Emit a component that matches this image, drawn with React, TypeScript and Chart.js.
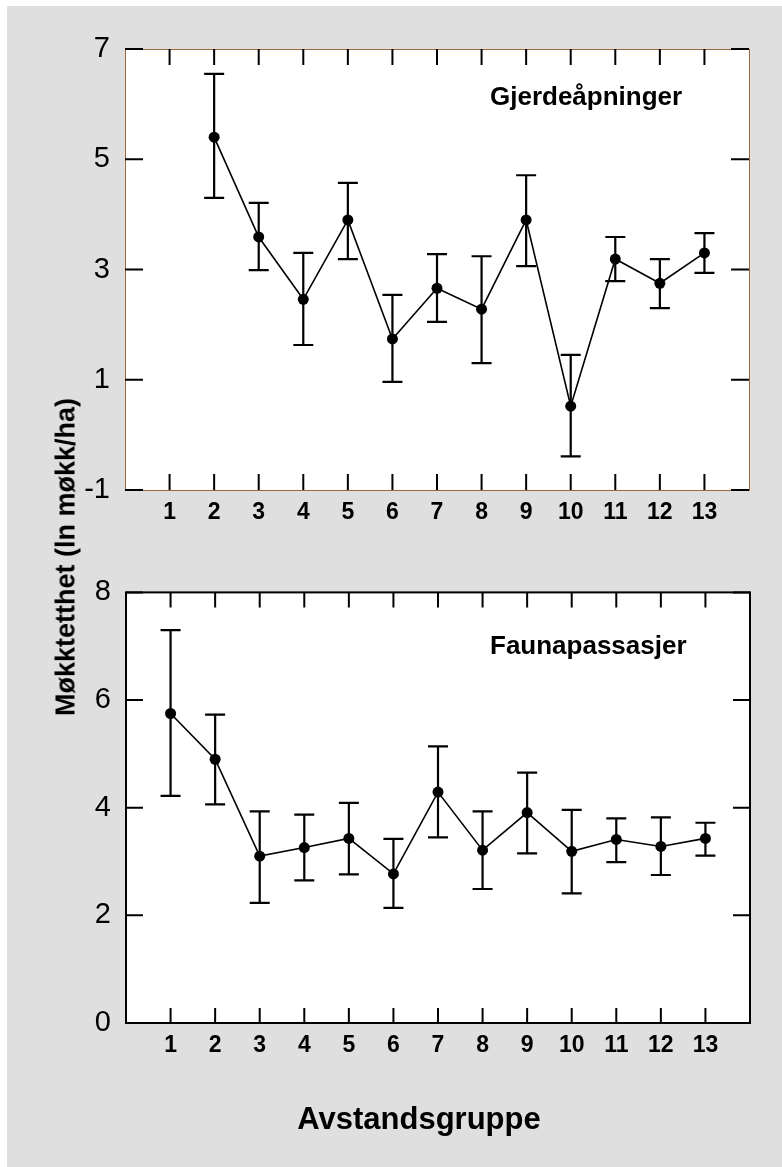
import React, { useEffect, useRef } from "react";
import { Chart, registerables } from "chart.js";

Chart.register(...registerables);

// ---- data ----
const categories = [1, 2, 3, 4, 5, 6, 7, 8, 9, 10, 11, 12, 13];

const gjerdeMean = [null, 5.4, 3.59, 2.46, 3.9, 1.74, 2.66, 2.28, 3.9, 0.52, 3.19, 2.75, 3.3];
const gjerdeUpper = [null, 6.55, 4.21, 3.3, 4.57, 2.54, 3.28, 3.24, 4.71, 1.45, 3.59, 3.19, 3.66];
const gjerdeLower = [null, 4.3, 2.99, 1.63, 3.19, 0.96, 2.05, 1.3, 3.06, -0.39, 2.79, 2.3, 2.94];

const faunaMean = [5.75, 4.9, 3.1, 3.26, 3.43, 2.77, 4.29, 3.21, 3.91, 3.19, 3.41, 3.28, 3.43];
const faunaUpper = [7.3, 5.73, 3.93, 3.87, 4.09, 3.42, 5.14, 3.93, 4.65, 3.96, 3.8, 3.82, 3.72];
const faunaLower = [4.22, 4.06, 2.23, 2.65, 2.76, 2.14, 3.45, 2.49, 3.15, 2.41, 2.99, 2.75, 3.11];

const gjerdeYRange = [-1, 7];
const faunaYRange = [0, 8];
const yStep = 2;
const xRange = [0, 14];

const gjerdeTitle = "Gjerdeåpninger";
const faunaTitle = "Faunapassasjer";
const yAxisTitle = "Møkktetthet (ln møkk/ha)";
const xAxisTitle = "Avstandsgruppe";

const FONT = "Arial, 'Liberation Sans', Helvetica, sans-serif";

type PanelCfg = {
  mean: (number | null)[];
  upper: (number | null)[];
  lower: (number | null)[];
  yRange: number[];
  label: string;
  labelDx: number;
  labelDy: number;
  borderColor: string;
  borderWidth: number;
  xTickLen: number;
  yTickLen: number;
  padding: { left: number; right: number; top: number; bottom: number };
  yAxisWidth: number;
  canvasH: number;
};

function makeFramePlugin(cfg: PanelCfg) {
  return {
    id: "frame",
    beforeDraw(chart: any) {
      const { ctx, chartArea } = chart;
      const { left, top, right, bottom } = chartArea;
      ctx.save();
      ctx.fillStyle = "#ffffff";
      ctx.fillRect(left, top, right - left, bottom - top);
      ctx.restore();
    },
    beforeDatasetsDraw(chart: any) {
      const { ctx } = chart;
      const xs = chart.scales.x;
      const ys = chart.scales.y;
      ctx.save();
      ctx.strokeStyle = "#000";
      ctx.lineWidth = 2.2;
      const cap = 10;
      categories.forEach((c, i) => {
        const u = cfg.upper[i];
        const l = cfg.lower[i];
        if (u == null || l == null) return;
        const x = xs.getPixelForValue(c);
        const yu = ys.getPixelForValue(u);
        const yl = ys.getPixelForValue(l);
        ctx.beginPath();
        ctx.moveTo(x, yu);
        ctx.lineTo(x, yl);
        ctx.moveTo(x - cap, yu);
        ctx.lineTo(x + cap, yu);
        ctx.moveTo(x - cap, yl);
        ctx.lineTo(x + cap, yl);
        ctx.stroke();
      });
      ctx.restore();
    },
    afterDatasetsDraw(chart: any) {
      const { ctx, chartArea } = chart;
      const { left, top, right, bottom } = chartArea;
      const xs = chart.scales.x;
      const ys = chart.scales.y;
      ctx.save();
      // frame
      ctx.strokeStyle = cfg.borderColor;
      ctx.lineWidth = cfg.borderWidth;
      const off = cfg.borderWidth % 2 === 1 ? 0.5 : 0;
      ctx.strokeRect(left + off, top + off, right - left, bottom - top);
      // inward ticks
      ctx.strokeStyle = "#000";
      ctx.lineWidth = 2;
      ctx.beginPath();
      categories.forEach((c) => {
        const x = xs.getPixelForValue(c);
        ctx.moveTo(x, top);
        ctx.lineTo(x, top + cfg.xTickLen);
        ctx.moveTo(x, bottom);
        ctx.lineTo(x, bottom - cfg.xTickLen);
      });
      ys.ticks.forEach((t: any) => {
        const y = ys.getPixelForValue(t.value);
        ctx.moveTo(left, y);
        ctx.lineTo(left + cfg.yTickLen, y);
        ctx.moveTo(right, y);
        ctx.lineTo(right - cfg.yTickLen, y);
      });
      ctx.stroke();
      // panel label
      ctx.fillStyle = "#000";
      ctx.font = `bold 26px ${FONT}`;
      ctx.textAlign = "left";
      ctx.textBaseline = "middle";
      ctx.fillText(cfg.label, left + cfg.labelDx, top + cfg.labelDy);
      ctx.restore();
    },
  };
}

function Panel({ cfg, top }: { cfg: PanelCfg; top: number }) {
  const ref = useRef<HTMLCanvasElement | null>(null);
  useEffect(() => {
    if (!ref.current) return;
    const chart = new Chart(ref.current, {
      type: "line",
      data: {
        datasets: [
          {
            data: categories.map((c, i) => ({ x: c, y: cfg.mean[i] as any })),
            borderColor: "#000",
            borderWidth: 1.6,
            pointRadius: 5.5,
            pointBackgroundColor: "#000",
            pointBorderColor: "#000",
            pointBorderWidth: 0,
            tension: 0,
            fill: false,
          },
        ],
      },
      options: {
        responsive: false,
        animation: false,
        layout: { padding: cfg.padding },
        plugins: { legend: { display: false }, tooltip: { enabled: false } },
        scales: {
          x: {
            type: "linear",
            min: xRange[0],
            max: xRange[1],
            grid: { display: false, drawTicks: false },
            border: { display: false },
            afterFit: (s: any) => {
              s.height = 70;
            },
            ticks: {
              stepSize: 1,
              autoSkip: false,
              maxRotation: 0,
              padding: 9,
              color: "#000",
              font: { family: FONT, size: 23, weight: "bold" },
              callback: (v: any) => (v >= 1 && v <= 13 ? String(v) : ""),
            },
          },
          y: {
            type: "linear",
            min: cfg.yRange[0],
            max: cfg.yRange[1],
            grid: { display: false, drawTicks: false },
            border: { display: false },
            afterFit: (s: any) => {
              s.width = cfg.yAxisWidth;
            },
            ticks: {
              stepSize: yStep,
              padding: 15,
              color: "#000",
              font: { family: FONT, size: 29 },
            },
          },
        },
      },
      plugins: [makeFramePlugin(cfg)],
    } as any);
    return () => chart.destroy();
  }, [cfg]);
  return (
    <canvas
      ref={ref}
      width={782}
      height={cfg.canvasH}
      style={{ position: "absolute", left: 0, top, width: 782, height: cfg.canvasH }}
    />
  );
}

const topCfg: PanelCfg = {
  mean: gjerdeMean,
  upper: gjerdeUpper,
  lower: gjerdeLower,
  yRange: gjerdeYRange,
  label: gjerdeTitle,
  labelDx: 365,
  labelDy: 49,
  borderColor: "#9c6a3c",
  borderWidth: 1,
  xTickLen: 16,
  yTickLen: 18,
  padding: { left: 0, right: 33, top: 49, bottom: 0 },
  yAxisWidth: 125,
  canvasH: 560,
};

const bottomCfg: PanelCfg = {
  mean: faunaMean,
  upper: faunaUpper,
  lower: faunaLower,
  yRange: faunaYRange,
  label: faunaTitle,
  labelDx: 364,
  labelDy: 54,
  borderColor: "#000",
  borderWidth: 2,
  xTickLen: 15,
  yTickLen: 17,
  padding: { left: 0, right: 32, top: 29, bottom: 74 },
  yAxisWidth: 126,
  canvasH: 607,
};

export default function App() {
  return (
    <div
      style={{
        position: "fixed",
        left: 0,
        top: 0,
        width: 782,
        height: 1167,
        overflow: "hidden",
        background: "#ffffff",
      }}
    >
      <div
        style={{
          position: "absolute",
          left: 7,
          top: 6,
          right: 0,
          bottom: 0,
          background: "#dfdfdf",
        }}
      />
      <Panel cfg={topCfg} top={0} />
      <Panel cfg={bottomCfg} top={560} />
      <div
        style={{
          position: "absolute",
          left: 66,
          top: 557,
          transform: "translate(-50%, -50%) rotate(-90deg)",
          whiteSpace: "nowrap",
          font: `bold 27px ${FONT}`,
          lineHeight: 1,
          color: "#000",
        }}
      >
        {yAxisTitle}
      </div>
      <div
        style={{
          position: "absolute",
          left: 419,
          top: 1118,
          transform: "translate(-50%, -50%)",
          whiteSpace: "nowrap",
          font: `bold 31px ${FONT}`,
          lineHeight: 1,
          color: "#000",
        }}
      >
        {xAxisTitle}
      </div>
    </div>
  );
}
